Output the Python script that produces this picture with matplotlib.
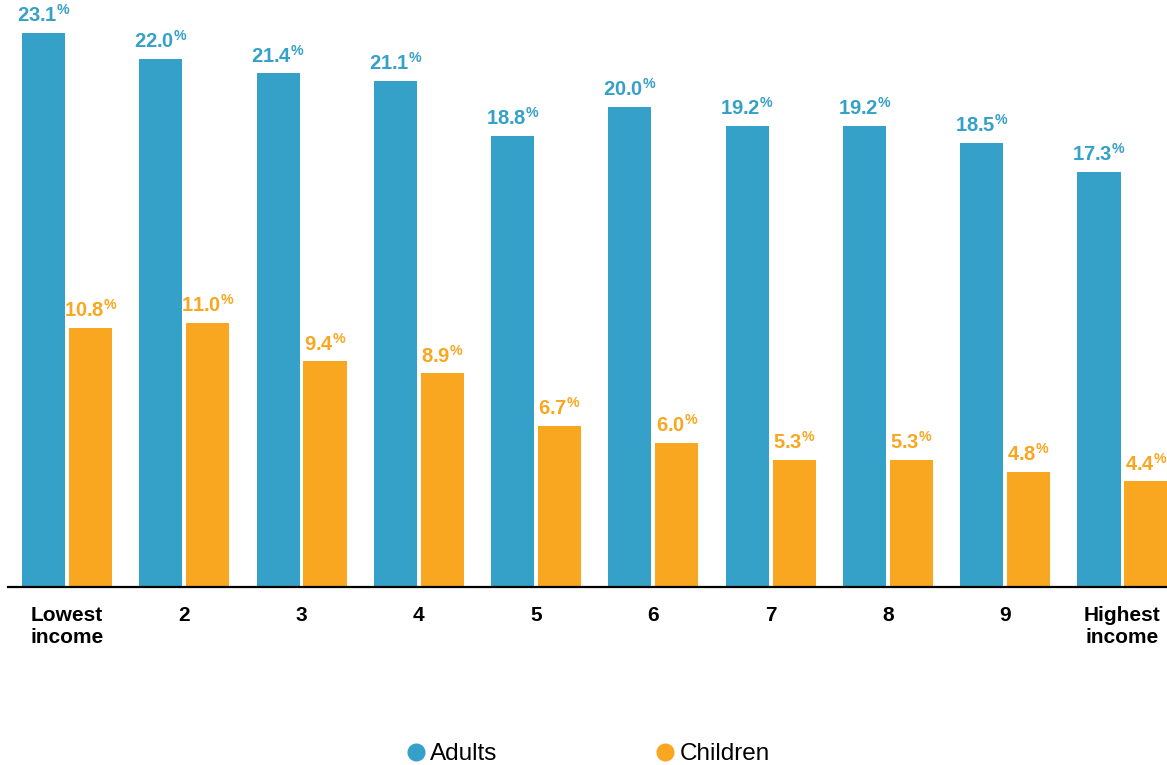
import matplotlib
matplotlib.use("Agg")
import matplotlib.pyplot as plt
import numpy as np

# data
groups = ['Lowest\nincome', '2', '3', '4', '5', '6', '7', '8', '9', 'Highest\nincome']
adults = [23.1, 22.0, 21.4, 21.1, 18.8, 20.0, 19.2, 19.2, 18.5, 17.3]
children = [10.8, 11.0, 9.4, 8.9, 6.7, 6.0, 5.3, 5.3, 4.8, 4.4]

blue = '#35A0C8'
orange = '#F9A620'

plt.rcParams['font.family'] = ['Liberation Sans', 'DejaVu Sans']
plt.rcParams['mathtext.fontset'] = 'custom'
plt.rcParams['mathtext.rm'] = 'Liberation Sans'
plt.rcParams['mathtext.bf'] = 'Liberation Sans:bold'

fig = plt.figure(figsize=(11.67, 7.65), dpi=100)
ax = fig.add_axes([8 / 1167, 178 / 765, 1 - 8 / 1167, 587 / 765])

x = np.arange(len(groups))
w = 0.367
off = 0.2
b1 = ax.bar(x - off, adults, w, color=blue, label='Adults')
b2 = ax.bar(x + off, children, w, color=orange, label='Children')

for bars, vals, col in [(b1, adults, blue), (b2, children, orange)]:
    for rect, v in zip(bars, vals):
        ax.annotate(r'$\mathbf{%.1f^{\%%}}$' % v,
                    (rect.get_x() + rect.get_width() / 2, v),
                    xytext=(0, 5), textcoords='offset points',
                    ha='center', va='bottom', color=col, fontsize=14.5)

ax.set_xlim(-0.503, 9.38)
ax.set_ylim(0, 587 / 24)
ax.set_xticks(x)
ax.set_xticklabels(groups, fontsize=15, fontweight='bold', linespacing=1.15)
ax.tick_params(axis='x', length=0, pad=14)
ax.set_yticks([])
for s in ['top', 'right', 'left']:
    ax.spines[s].set_visible(False)
ax.spines['bottom'].set_linewidth(1.6)
ax.spines['bottom'].set_color('black')

handles = [
    plt.Line2D([], [], marker='o', linestyle='', color=blue, markersize=12),
    plt.Line2D([], [], marker='o', linestyle='', color=orange, markersize=12),
]
fig.legend(handles, ['Adults', 'Children'], loc='center', ncol=2,
           bbox_to_anchor=(0.503, 11 / 765), frameon=False, fontsize=17.5,
           handletextpad=0.1, columnspacing=6.4, handlelength=1.0)

fig.savefig('out.png', dpi=100)
